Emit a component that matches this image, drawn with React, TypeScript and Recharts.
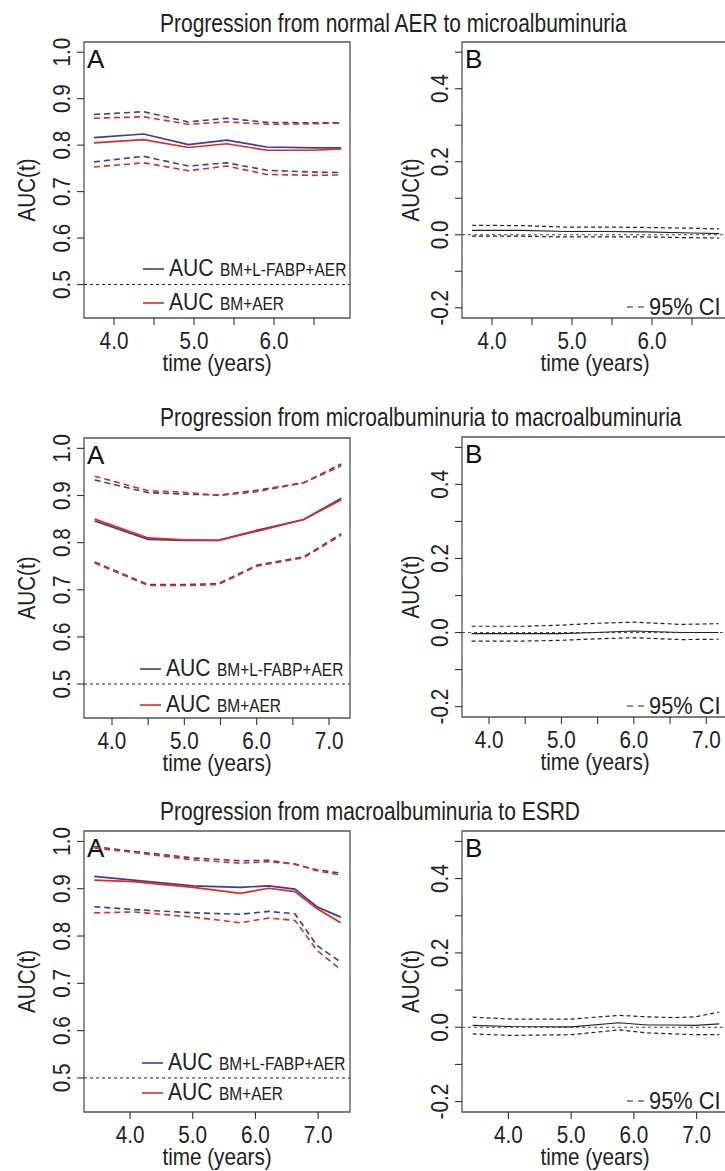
import React from 'react';
import { LineChart, Line, XAxis, YAxis, ReferenceLine, ReferenceArea, Legend } from 'recharts';

const FONT = "'Liberation Sans', Arial, sans-serif";
const BLUE = '#3c3ca0';
const RED = '#e8261f';
const INK = '#333';
const FRAME = '#555';
const TXT = '#222';

// ---------- titles ----------
const titles = [
  'Progression from normal AER to microalbuminuria',
  'Progression from microalbuminuria to macroalbuminuria',
  'Progression from macroalbuminuria to ESRD',
];

// ---------- row 1 : normal AER -> microalbuminuria ----------
const time1 = [3.75, 4.37, 4.93, 5.41, 5.91, 6.5, 6.84];
const r1BlueAuc = [0.816, 0.824, 0.801, 0.811, 0.796, 0.794, 0.794];
const r1RedAuc = [0.805, 0.812, 0.795, 0.803, 0.789, 0.789, 0.792];
const r1BlueUp = [0.866, 0.872, 0.85, 0.858, 0.849, 0.848, 0.848];
const r1RedUp = [0.858, 0.861, 0.845, 0.85, 0.845, 0.846, 0.848];
const r1BlueLo = [0.764, 0.776, 0.755, 0.762, 0.746, 0.742, 0.741];
const r1RedLo = [0.753, 0.762, 0.745, 0.755, 0.737, 0.735, 0.736];
const r1Diff = [0.012, 0.012, 0.009, 0.009, 0.008, 0.005, 0.003];
const r1DiffUp = [0.026, 0.025, 0.021, 0.021, 0.02, 0.018, 0.016];
const r1DiffLo = [-0.004, -0.004, -0.006, -0.006, -0.006, -0.008, -0.009];

// ---------- row 2 : microalbuminuria -> macroalbuminuria ----------
const time2 = [3.76, 4.5, 4.99, 5.47, 6.0, 6.65, 7.17];
const r2BlueAuc = [0.846, 0.807, 0.805, 0.805, 0.826, 0.849, 0.894];
const r2RedAuc = [0.85, 0.81, 0.806, 0.805, 0.824, 0.849, 0.891];
const r2BlueUp = [0.933, 0.906, 0.903, 0.901, 0.911, 0.927, 0.967];
const r2RedUp = [0.941, 0.91, 0.907, 0.9, 0.908, 0.927, 0.963];
const r2BlueLo = [0.759, 0.711, 0.711, 0.713, 0.752, 0.77, 0.819];
const r2RedLo = [0.757, 0.709, 0.709, 0.711, 0.75, 0.768, 0.816];
const r2Diff = [-0.003, -0.003, -0.003, 0.0, 0.004, 0.0, 0.0];
const r2DiffUp = [0.017, 0.017, 0.02, 0.025, 0.028, 0.022, 0.024];
const r2DiffLo = [-0.023, -0.023, -0.021, -0.017, -0.014, -0.019, -0.018];

// ---------- row 3 : macroalbuminuria -> ESRD ----------
const time3 = [3.43, 4.05, 5.01, 5.76, 6.21, 6.63, 6.98, 7.36];
const r3BlueAuc = [0.926, 0.918, 0.906, 0.903, 0.906, 0.899, 0.862, 0.84];
const r3RedAuc = [0.918, 0.915, 0.903, 0.89, 0.901, 0.894, 0.858, 0.828];
const r3BlueUp = [0.989, 0.979, 0.965, 0.959, 0.96, 0.952, 0.94, 0.933];
const r3RedUp = [0.986, 0.977, 0.961, 0.954, 0.957, 0.952, 0.938, 0.929];
const r3BlueLo = [0.862, 0.856, 0.849, 0.846, 0.852, 0.847, 0.78, 0.745];
const r3RedLo = [0.849, 0.851, 0.84, 0.828, 0.838, 0.833, 0.77, 0.729];
const r3Diff = [0.005, 0.002, 0.001, 0.012, 0.006, 0.006, 0.005, 0.009];
const r3DiffUp = [0.027, 0.022, 0.022, 0.032, 0.028, 0.026, 0.028, 0.041];
const r3DiffLo = [-0.018, -0.022, -0.02, -0.007, -0.015, -0.018, -0.02, -0.02];

// ---------- ticks ----------
const aucTicks = [0.5, 0.6, 0.7, 0.8, 0.9, 1.0];
const aucLabeled = [0.5, 0.6, 0.7, 0.8, 0.9, 1.0];
const diffTicks = [-0.2, -0.1, 0, 0.1, 0.2, 0.3, 0.4, 0.5];
const diffLabeled = [-0.2, 0, 0.2, 0.4];
const xTicks1 = [4, 4.5, 5, 5.5, 6, 6.5];
const xLabeled1 = [4, 5, 6];
const xTicks2 = [4, 4.5, 5, 5.5, 6, 6.5, 7];
const xLabeled2 = [4, 5, 6, 7];
const xTicks3 = [4, 5, 6, 7];
const xLabeled3 = [4, 5, 6, 7];

const seriesA = { blue: 'BM+L-FABP+AER', red: 'BM+AER' };
const legendOrder = [seriesA.blue, seriesA.red];

function build(t: number[], cols: Record<string, number[]>) {
  return t.map((v, i) => {
    const o: any = { t: v };
    Object.keys(cols).forEach((k) => (o[k] = cols[k][i]));
    return o;
  });
}

const dataA1 = build(time1, { bs: r1BlueAuc, rs: r1RedAuc, bu: r1BlueUp, ru: r1RedUp, bl: r1BlueLo, rl: r1RedLo });
const dataA2 = build(time2, { bs: r2BlueAuc, rs: r2RedAuc, bu: r2BlueUp, ru: r2RedUp, bl: r2BlueLo, rl: r2RedLo });
const dataA3 = build(time3, { bs: r3BlueAuc, rs: r3RedAuc, bu: r3BlueUp, ru: r3RedUp, bl: r3BlueLo, rl: r3RedLo });
const dataB1 = build(time1, { d: r1Diff, du: r1DiffUp, dl: r1DiffLo });
const dataB2 = build(time2, { d: r2Diff, du: r2DiffUp, dl: r2DiffLo });
const dataB3 = build(time3, { d: r3Diff, du: r3DiffUp, dl: r3DiffLo });

const YW = 84;
const MT = 12;
const XH = 62;
const MR = 12;

const inList = (v: number, list: number[]) => list.some((x) => Math.abs(x - v) < 1e-9);

// condensed text (the original uses a narrow Helvetica)
function NText(props: {
  x: number;
  y: number;
  size: number;
  anchor?: 'start' | 'middle' | 'end';
  rotate?: boolean;
  sx?: number;
  children: React.ReactNode;
}) {
  const { x, y, size, anchor = 'start', rotate = false, sx = 0.86, children } = props;
  const tf = `translate(${x},${y})${rotate ? ' rotate(-90)' : ''} scale(${sx},1)`;
  return (
    <text transform={tf} x={0} y={0} textAnchor={anchor} fontFamily={FONT} fontSize={size} fill={TXT}>
      {children}
    </text>
  );
}

type PanelProps = {
  kind: 'A' | 'B';
  boxLeft: number;
  boxTop: number;
  w: number;
  h: number;
  xDomain: [number, number];
  yDomain: [number, number];
  xTicks: number[];
  xLabeled: number[];
  yTicks: number[];
  yLabeled: number[];
  data: any[];
  ylabX: number;
  legendX?: number;
  legendGap?: number;
};

function Panel(p: PanelProps) {
  const width = YW + p.w + MR;
  const height = MT + p.h + XH;
  const bottom = MT + p.h;

  const xTick = (props: any) => {
    const v = props.payload.value;
    if (!inList(v, p.xLabeled)) return <g />;
    return (
      <NText x={props.x} y={bottom + 31} size={23} sx={0.9} anchor="middle">
        {v.toFixed(1)}
      </NText>
    );
  };
  const yTick = (props: any) => {
    const v = props.payload.value;
    if (!inList(v, p.yLabeled)) return <g />;
    return (
      <NText x={YW - 14} y={props.y} size={23} sx={0.9} anchor="middle" rotate>
        {Math.abs(v) < 1e-9 ? '0.0' : v.toFixed(1)}
      </NText>
    );
  };
  const xLabel = () => (
    <NText x={YW + p.w / 2} y={bottom + 53} size={23} sx={0.9} anchor="middle">
      time (years)
    </NText>
  );
  const yLabel = () => (
    <NText x={p.ylabX} y={MT + p.h / 2 + 10} size={24} anchor="middle" rotate>
      AUC(t)
    </NText>
  );
  const panelLetter = () => (
    <text x={YW + 3} y={MT + 26} fontFamily={FONT} fontSize={26} fill="#111">
      {p.kind}
    </text>
  );

  const legendA = (props: any) => {
    const items = (props.payload || [])
      .filter((e: any) => e.type !== 'none')
      .sort((a: any, b: any) => legendOrder.indexOf(a.value) - legendOrder.indexOf(b.value));
    const gap = p.legendGap ?? 34;
    return (
      <svg width={230} height={70} style={{ overflow: 'visible', display: 'block' }}>
        {items.map((e: any, i: number) => {
          const ly = 8 + i * gap;
          return (
            <g key={i}>
              <line x1={0} x2={21} y1={ly} y2={ly} stroke={e.color} strokeWidth={1.6} />
              <NText x={26} y={ly + 7} size={24} sx={0.88}>
                AUC
              </NText>
              <NText x={77} y={ly + 7} size={18} sx={0.86}>
                {e.value}
              </NText>
            </g>
          );
        })}
      </svg>
    );
  };
  const legendB = () => (
    <svg width={120} height={30} style={{ overflow: 'visible', display: 'block' }}>
      <line x1={0} x2={17} y1={10} y2={10} stroke={TXT} strokeWidth={1.2} strokeDasharray="6 5" />
      <NText x={22} y={18} size={23} sx={0.95}>
        95% CI
      </NText>
    </svg>
  );

  return (
    <div style={{ position: 'absolute', left: p.boxLeft - YW, top: p.boxTop - MT }}>
      <LineChart width={width} height={height} data={p.data} margin={{ top: MT, right: MR, bottom: 0, left: 0 }}>
        <XAxis
          dataKey="t"
          type="number"
          domain={p.xDomain}
          ticks={p.xTicks}
          interval={0}
          allowDataOverflow
          axisLine={false}
          tickLine={{ stroke: INK, strokeWidth: 1.1 }}
          tickSize={7}
          height={XH}
          tick={xTick}
          label={xLabel}
        />
        <YAxis
          type="number"
          domain={p.yDomain}
          ticks={p.yTicks}
          interval={0}
          allowDataOverflow
          axisLine={false}
          tickLine={{ stroke: INK, strokeWidth: 1.1 }}
          tickSize={7}
          width={YW}
          tick={yTick}
          label={yLabel}
        />
        <ReferenceArea
          x1={p.xDomain[0]}
          x2={p.xDomain[1]}
          y1={p.yDomain[0]}
          y2={p.yDomain[1]}
          fill="none"
          stroke={FRAME}
          strokeWidth={1.3}
          ifOverflow="visible"
          label={panelLetter}
        />
        {p.kind === 'A' ? (
          <ReferenceLine y={0.5} stroke="#222" strokeWidth={1} strokeDasharray="3 3" ifOverflow="visible" />
        ) : (
          <ReferenceLine y={0} stroke="#333" strokeWidth={0.9} strokeDasharray="3 3" ifOverflow="visible" />
        )}
        {p.kind === 'A' && [
          <Line key="bu" dataKey="bu" stroke={BLUE} strokeWidth={1.6} strokeDasharray="6 4" dot={false} legendType="none" isAnimationActive={false} />,
          <Line key="ru" dataKey="ru" stroke={RED} strokeWidth={1.6} strokeDasharray="6 4" dot={false} legendType="none" isAnimationActive={false} />,
          <Line key="bl" dataKey="bl" stroke={BLUE} strokeWidth={1.6} strokeDasharray="6 4" dot={false} legendType="none" isAnimationActive={false} />,
          <Line key="rl" dataKey="rl" stroke={RED} strokeWidth={1.6} strokeDasharray="6 4" dot={false} legendType="none" isAnimationActive={false} />,
          <Line key="bs" dataKey="bs" name={seriesA.blue} stroke={BLUE} strokeWidth={1.7} dot={false} isAnimationActive={false} />,
          <Line key="rs" dataKey="rs" name={seriesA.red} stroke={RED} strokeWidth={1.7} dot={false} isAnimationActive={false} />,
        ]}
        {p.kind === 'B' && [
          <Line key="du" dataKey="du" stroke={TXT} strokeWidth={1.2} strokeDasharray="4 3" dot={false} legendType="none" isAnimationActive={false} />,
          <Line key="dl" dataKey="dl" stroke={TXT} strokeWidth={1.2} strokeDasharray="4 3" dot={false} legendType="none" isAnimationActive={false} />,
          <Line key="d" dataKey="d" name="difference" stroke={TXT} strokeWidth={1.1} dot={false} legendType="none" isAnimationActive={false} />,
        ]}
        {p.kind === 'A' ? (
          <Legend
            layout="horizontal"
            align="center"
            verticalAlign="middle"
            content={legendA}
            wrapperStyle={{ left: YW + (p.legendX ?? 58), top: bottom - 57, width: 230, height: 70 }}
          />
        ) : (
          <Legend
            layout="horizontal"
            align="center"
            verticalAlign="middle"
            content={legendB}
            wrapperStyle={{ left: YW + 165, top: bottom - 21, width: 120, height: 30 }}
          />
        )}
      </LineChart>
    </div>
  );
}

export default function App() {
  const titleBaselines = [32, 426, 820];
  return (
    <div
      style={{
        position: 'absolute',
        left: 0,
        top: 0,
        width: 725,
        height: 1171,
        overflow: 'hidden',
        background: '#fff',
      }}
    >
      <svg width={725} height={1171} style={{ position: 'absolute', left: 0, top: 0 }}>
        {titles.map((t, i) => (
          <NText key={i} x={160} y={titleBaselines[i]} size={25} sx={0.84}>
            {t}
          </NText>
        ))}
      </svg>

      <Panel kind="A" boxLeft={84} boxTop={42} w={266} h={276} xDomain={[3.625, 6.95]} yDomain={[0.428, 1.022]}
        xTicks={xTicks1} xLabeled={xLabeled1} yTicks={aucTicks} yLabeled={aucLabeled} data={dataA1} ylabX={35}
        legendX={59} legendGap={34} />
      <Panel kind="B" boxLeft={462} boxTop={42} w={266} h={276} xDomain={[3.625, 6.95]} yDomain={[-0.228, 0.528]}
        xTicks={xTicks1} xLabeled={xLabeled1} yTicks={diffTicks} yLabeled={diffLabeled} data={dataB1} ylabX={41} />

      <Panel kind="A" boxLeft={84} boxTop={438} w={266} h={280} xDomain={[3.613, 7.29]} yDomain={[0.428, 1.022]}
        xTicks={xTicks2} xLabeled={xLabeled2} yTicks={aucTicks} yLabeled={aucLabeled} data={dataA2} ylabX={35}
        legendX={56} legendGap={36} />
      <Panel kind="B" boxLeft={462} boxTop={437} w={266} h={280} xDomain={[3.627, 7.30]} yDomain={[-0.228, 0.528]}
        xTicks={xTicks2} xLabeled={xLabeled2} yTicks={diffTicks} yLabeled={diffLabeled} data={dataB2} ylabX={41} />

      <Panel kind="A" boxLeft={84} boxTop={831} w={266} h={281} xDomain={[3.266, 7.508]} yDomain={[0.428, 1.022]}
        xTicks={xTicks3} xLabeled={xLabeled3} yTicks={aucTicks} yLabeled={aucLabeled} data={dataA3} ylabX={35}
        legendX={58} legendGap={30} />
      <Panel kind="B" boxLeft={462} boxTop={831} w={266} h={281} xDomain={[3.26, 7.50]} yDomain={[-0.228, 0.528]}
        xTicks={xTicks3} xLabeled={xLabeled3} yTicks={diffTicks} yLabeled={diffLabeled} data={dataB3} ylabX={41} />
    </div>
  );
}
